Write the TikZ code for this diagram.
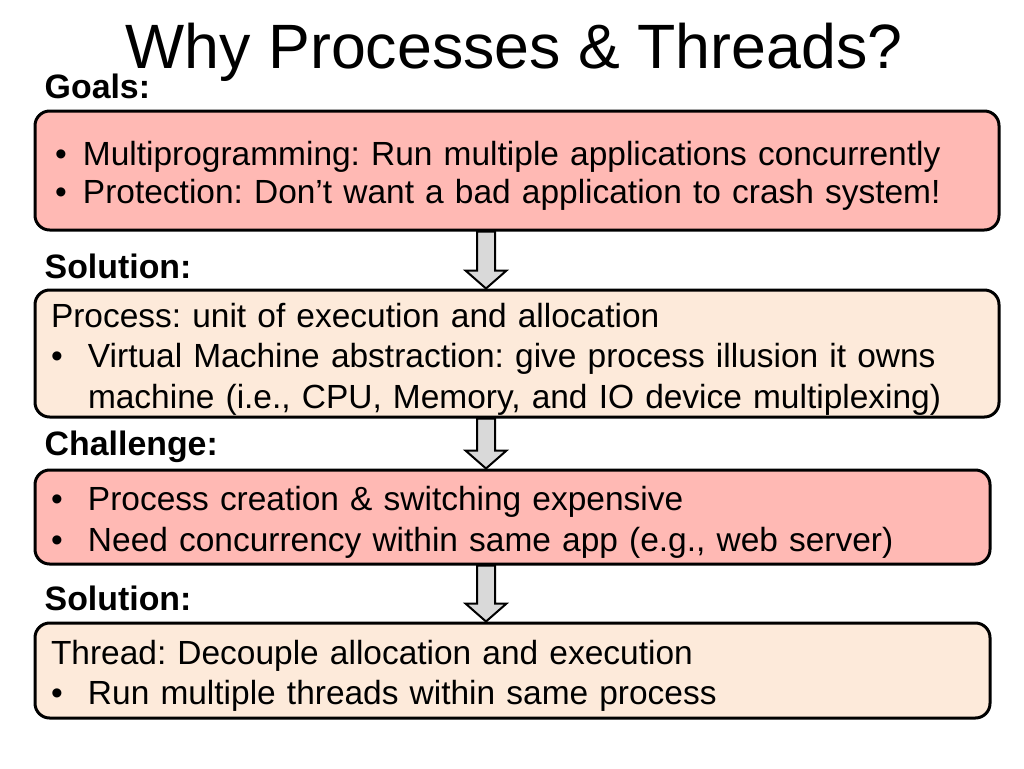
\documentclass[tikz,border=0pt]{standalone}
\usepackage{fontspec}
\setmainfont{Liberation Sans}
\usepackage{xcolor}
\usetikzlibrary{calc, positioning}
\frenchspacing
\definecolor{goalred}{RGB}{255,185,180}
\definecolor{solpeach}{RGB}{253,234,218}
\definecolor{arrowgray}{RGB}{217,217,217}
\newcommand{\bitem}{\makebox[27.75pt][l]{\textbullet}}
\newcommand{\gitem}{\makebox[21pt][l]{\textbullet}}
\tikzset{
    slide/.style={
        x=0.75pt, y=-0.75pt,
        font=\fontsize{25.1}{30.4}\selectfont,
        box/.style={draw, rectangle, rounded corners=11pt, line width=2.25pt, inner xsep=12pt, inner ysep=0pt, align=left,
            execute at begin node={\rule{0pt}{26.5pt}}},
        goalbox/.style={box, fill=goalred},
        solbox/.style={box, fill=solpeach},
        heading/.style={anchor=base west, font=\fontsize{25.4}{30.4}\selectfont\bfseries},
        fatarrow/.style={draw, line width=1.5pt, fill=arrowgray, line join=miter}
    }
}
\begin{document}
\begin{tikzpicture}[slide]
        \useasboundingbox (0,0) rectangle (1024,768);
        % Title
        \node[anchor=base, font=\fontsize{47}{50}\selectfont] (title) at (514,68) {Why Processes \& Threads?};
        
        % Headings
        \node[heading] (hgoals) at (40,98) {Goals:};
        \node[heading] (hsol1) at (40,278) {Solution:};
        \node[heading] (hchall) at (40,455) {Challenge:};
        \node[heading] (hsol2) at (40,610) {Solution:};
        
        % Boxes
        \node[goalbox, minimum width=723pt, minimum height=89.25pt, inner xsep=15pt, text width=693pt, font=\fontsize{25.1}{28.5}\selectfont] (goals) at (517,170.5)
            {\gitem Multiprogramming: Run multiple applications concurrently\\
             \gitem Protection: Don’t want a bad application to crash system!};
        \node[solbox, minimum width=723pt, minimum height=95.25pt, text width=699pt] (process) at (517,353.5)
            {Process: unit of execution and allocation\\
             \bitem Virtual Machine abstraction: give process illusion it owns\\
             \hspace*{27.75pt}machine (i.e., CPU, Memory, and IO device multiplexing)};
        \node[goalbox, minimum width=716.25pt, minimum height=70.5pt, text width=692.25pt] (challenge) at (512.5,517)
            {\bitem Process creation \& switching expensive\\
             \bitem Need concurrency within same app (e.g., web server)};
        \node[solbox, minimum width=716.25pt, minimum height=71.25pt, text width=692.25pt] (thread) at (512.5,670.5)
            {Thread: Decouple allocation and execution\\
             \bitem Run multiple threads within same process};
        
        % Block arrows
        \coordinate (axis) at (486,0);
        \foreach \a/\b in {goals/process, process/challenge, challenge/thread} {
            \draw[fatarrow] let \p1=(\a.south), \p2=(\b.north), \p3=(axis) in
                (\x3-6.75pt,\y1) -- (\x3-6.75pt,\y2+13.5pt) -- (\x3-15.4pt,\y2+13.5pt) -- (\x3,\y2)
                -- (\x3+15.4pt,\y2+13.5pt) -- (\x3+6.75pt,\y2+13.5pt) -- (\x3+6.75pt,\y1) -- cycle;
        }
        
    \end{tikzpicture}
\end{document}
